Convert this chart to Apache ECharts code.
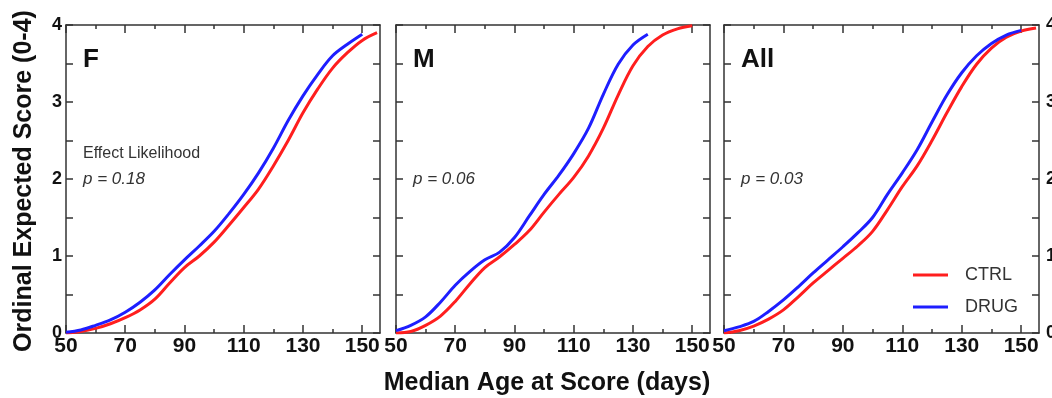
<!DOCTYPE html>
<html>
<head>
<meta charset="utf-8">
<script src="https://cdn.jsdelivr.net/npm/echarts@6/dist/echarts.min.js"></script>
<style>
  html, body { margin: 0; padding: 0; background: #fff; }
  #chart { width: 1052px; height: 398px; }
</style>
</head>
<body>
<div id="chart"></div>
<script>
// median age (days) sampled every 5 days
var ages = [50, 55, 60, 65, 70, 75, 80, 85, 90, 95, 100, 105, 110, 115, 120, 125, 130, 135, 140, 145, 150, 155];

// ordinal expected score
var fCtrl = [0, 0.02, 0.06, 0.12, 0.2, 0.3, 0.44, 0.65, 0.85, 1.0, 1.18, 1.4, 1.63, 1.87, 2.17, 2.5, 2.86, 3.17, 3.44, 3.64, 3.8, 3.9];
var fDrug = [0.01, 0.04, 0.1, 0.17, 0.27, 0.4, 0.56, 0.76, 0.95, 1.13, 1.32, 1.55, 1.8, 2.08, 2.4, 2.76, 3.08, 3.36, 3.6, 3.75, 3.88, null];

var mCtrl = [0, 0.02, 0.1, 0.22, 0.41, 0.64, 0.85, 0.99, 1.15, 1.33, 1.57, 1.8, 2.02, 2.3, 2.66, 3.09, 3.47, 3.72, 3.87, 3.95, 3.99, null];
var mDrug = [0.03, 0.1, 0.21, 0.4, 0.62, 0.8, 0.95, 1.05, 1.24, 1.52, 1.8, 2.05, 2.33, 2.66, 3.1, 3.49, 3.74, 3.88, null, null, null, null];

var allCtrl = [0, 0.03, 0.09, 0.18, 0.3, 0.47, 0.65, 0.81, 0.97, 1.13, 1.32, 1.6, 1.9, 2.17, 2.5, 2.86, 3.2, 3.49, 3.7, 3.84, 3.92, 3.96];
var allDrug = [0.03, 0.08, 0.15, 0.28, 0.43, 0.6, 0.78, 0.95, 1.12, 1.3, 1.5, 1.8, 2.08, 2.38, 2.74, 3.09, 3.38, 3.6, 3.76, 3.87, 3.93, null];

// x tick positions
var xMajor = [50, 70, 90, 110, 130, 150];
var xMinor = [60, 80, 100, 120, 140];

var panelNames = ['F', 'M', 'All'];
var pValues = ['p = 0.18', 'p = 0.06', 'p = 0.03'];
var groups = ['CTRL', 'DRUG'];

var myChart = echarts.init(document.getElementById('chart'));

var RED = '#ff1e1e';
var BLUE = '#1e1eff';
var AXIS = '#333';
var FONT = '"Liberation Sans", Arial, sans-serif';

function pairs(vals) {
  var out = [];
  for (var i = 0; i < ages.length; i++) {
    if (vals[i] !== null) out.push([ages[i], vals[i]]);
  }
  return out;
}

var panelData = [[fCtrl, fDrug], [mCtrl, mDrug], [allCtrl, allDrug]];
var gridLefts = [66, 396, 724];
var gridWidths = [314, 314, 315];

var grid = [], xAxis = [], yAxis = [], series = [], graphic = [];

function xAx(i, pos, ticks, len, withLine, withLabel) {
  return {
    gridIndex: i, type: 'value', min: 50, max: 156, interval: 10, position: pos,
    axisLine: { show: withLine, onZero: false, lineStyle: { color: AXIS, width: 1.5 } },
    axisTick: { show: true, inside: true, length: len, customValues: ticks, lineStyle: { color: AXIS, width: 1.5 } },
    splitLine: { show: false },
    axisLabel: {
      show: withLabel, margin: 3, color: '#111', fontSize: 21, fontWeight: 'bold', fontFamily: FONT,
      formatter: function (v) { return (v - 50) % 20 === 0 ? String(v) : ''; }
    }
  };
}

function yAx(i, pos, withLabel) {
  return {
    gridIndex: i, type: 'value', min: 0, max: 4, interval: 0.5, position: pos,
    axisLine: { show: true, onZero: false, lineStyle: { color: AXIS, width: 1.5 } },
    axisTick: { show: true, inside: true, length: 7, lineStyle: { color: AXIS, width: 1.5 } },
    splitLine: { show: false },
    axisLabel: {
      show: withLabel, margin: pos === 'left' ? 4 : 7, color: '#111', fontSize: 18, fontWeight: 'bold', fontFamily: FONT,
      formatter: function (v) { return v % 1 === 0 ? String(v) : ''; }
    }
  };
}

for (var i = 0; i < 3; i++) {
  grid.push({ left: gridLefts[i], top: 25, width: gridWidths[i], height: 308, outerBoundsMode: 'none' });

  // 4 x axes per panel: bottom major/minor, top major/minor
  xAxis.push(xAx(i, 'bottom', xMajor, 8, true, true));
  xAxis.push(xAx(i, 'bottom', xMinor, 4, false, false));
  xAxis.push(xAx(i, 'top', xMajor, 8, true, false));
  xAxis.push(xAx(i, 'top', xMinor, 4, false, false));

  yAxis.push(yAx(i, 'left', i === 0));
  yAxis.push(yAx(i, 'right', i === 2));

  for (var k = 0; k < 2; k++) {
    series.push({
      name: groups[k],
      type: 'line',
      xAxisIndex: i * 4,
      yAxisIndex: i * 2,
      data: pairs(panelData[i][k]),
      smooth: 0.35,
      symbol: 'none',
      showSymbol: false,
      lineStyle: { color: k === 0 ? RED : BLUE, width: 3 },
      itemStyle: { color: k === 0 ? RED : BLUE },
      silent: true
    });
  }

  // panel letter and p value
  graphic.push({
    type: 'text', left: gridLefts[i] + 17, top: 47,
    style: { text: panelNames[i], font: 'bold 26px ' + FONT, fill: '#111' }
  });
  graphic.push({
    type: 'text', left: gridLefts[i] + 17, top: 171,
    style: { text: pValues[i], font: 'italic 17px ' + FONT, fill: '#333' }
  });
}

graphic.push({
  type: 'text', left: 83, top: 146,
  style: { text: 'Effect Likelihood', font: '16px ' + FONT, fill: '#333' }
});

// axis titles
graphic.push({
  type: 'text', x: 24, y: 181, rotation: Math.PI / 2,
  style: { text: 'Ordinal Expected Score (0-4)', font: 'bold 25px ' + FONT, fill: '#111', align: 'center', verticalAlign: 'middle' }
});
graphic.push({
  type: 'text', x: 547, y: 383,
  style: { text: 'Median Age at Score (days)', font: 'bold 25px ' + FONT, fill: '#111', align: 'center', verticalAlign: 'middle' }
});

var option = {
  animation: false,
  grid: grid,
  xAxis: xAxis,
  yAxis: yAxis,
  legend: {
    orient: 'vertical',
    left: 908,
    top: 261,
    itemWidth: 35,
    itemHeight: 3,
    itemGap: 14,
    icon: 'rect',
    data: groups,
    textStyle: { fontSize: 18, color: '#333', fontFamily: FONT, padding: [0, 0, 0, 12] }
  },
  graphic: graphic,
  series: series
};

myChart.setOption(option);
</script>
</body>
</html>
